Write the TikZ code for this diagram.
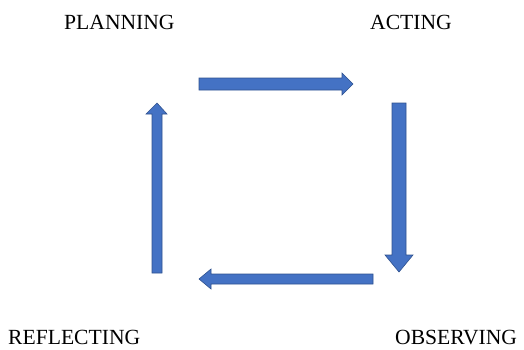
\documentclass[tikz,border=0pt]{standalone}
\usepackage{fontspec}
\setmainfont{Liberation Serif}
\usepackage{xcolor}
\definecolor{arrowfill}{HTML}{4472C4}
\definecolor{arrowline}{HTML}{2F528F}

\tikzset{
  stagelabel/.style={inner sep=0pt, anchor=base west, font=\fontsize{21.6}{24}\selectfont},
  blockarrow/.style={fill=arrowfill, draw=arrowline, line width=0.6pt, line join=miter}
}

\begin{document}
\begin{tikzpicture}[x=1pt,y=-1pt]
    \useasboundingbox (0,0) rectangle (524,349);

    % the four stages
    \node [stagelabel] (planning)   at (64,29)   {PLANNING};
    \node [stagelabel] (acting)     at (370,29)  {ACTING};
    \node [stagelabel] (reflecting) at (8,344)   {REFLECTING};
    \node [stagelabel] (observing)  at (395,344) {OBSERVING};

    % planning -> acting
    \draw [blockarrow] (199,78) -- (342,78) -- (342,73) -- (353,84)
        -- (342,95) -- (342,90) -- (199,90) -- cycle;
    % acting -> observing
    \draw [blockarrow] (392,103) -- (406,103) -- (406,255) -- (413,255)
        -- (399,272) -- (385,255) -- (392,255) -- cycle;
    % observing -> reflecting
    \draw [blockarrow] (373,274) -- (211,274) -- (211,269) -- (199,279)
        -- (211,289) -- (211,284) -- (373,284) -- cycle;
    % reflecting -> planning
    \draw [blockarrow] (152,273) -- (152,114) -- (146,114) -- (157,103)
        -- (167,114) -- (162,114) -- (162,273) -- cycle;
\end{tikzpicture}
\end{document}
